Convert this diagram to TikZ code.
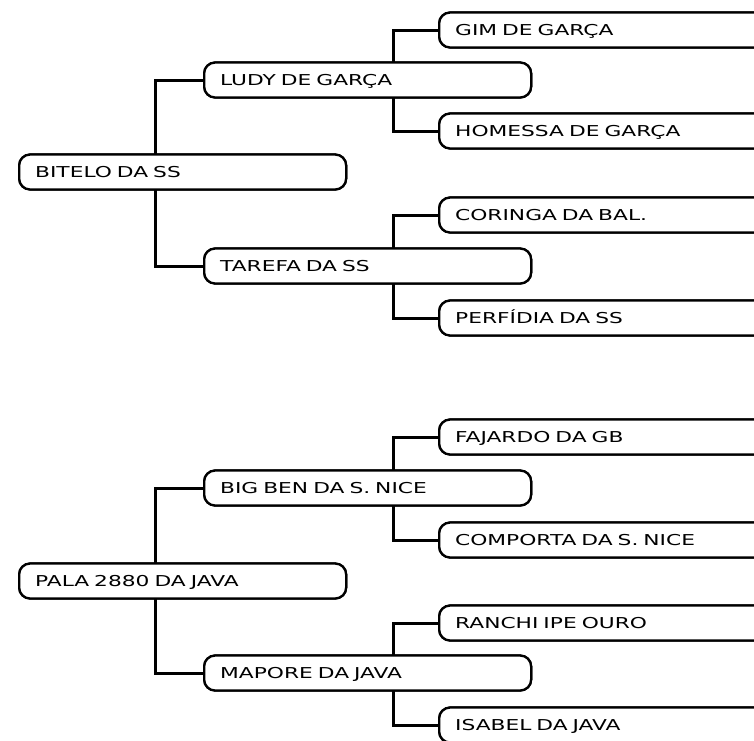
\documentclass[tikz,border=0pt]{standalone}
\usepackage{fontspec}
\newfontfamily\pixfont[FakeStretch=1.45]{DejaVu Sans}
\tikzset{
  horse/.style={draw=black, line width=2.3pt, fill=white, rounded corners=11pt,
    minimum height=35pt, inner xsep=16pt, inner ysep=0pt, anchor=west,
    text width=295pt, align=left, text height=11pt, text depth=0pt,
    font=\pixfont\fontsize{15}{18}\selectfont},
  conn/.style={draw=black, line width=3pt}
}
\begin{document}
\begin{tikzpicture}[x=1pt,y=-1pt]
\useasboundingbox (0,0) rectangle (754,740);
\clip (0,0) rectangle (754,740);
\fill[white] (0,0) rectangle (754,740);
% junction points
\coordinate (j1) at (155,172);
\coordinate (j2) at (393,80);
\coordinate (j3) at (393,266);
\coordinate (j5) at (155,581);
\coordinate (j6) at (393,488);
\coordinate (j7) at (393,673);
% nodes placed first (to name them), then connectors, then boxes drawn on top
\path
  (18,172) node[horse] (bitelo) {BITELO DA SS}
  (203,80) node[horse] (ludy) {LUDY DE GARÇA}
  (203,266) node[horse] (tarefa) {TAREFA DA SS}
  (438,30) node[horse] (gim) {GIM DE GARÇA}
  (438,131) node[horse] (homessa) {HOMESSA DE GARÇA}
  (438,215) node[horse] (coringa) {CORINGA DA BAL.}
  (438,318) node[horse] (perfidia) {PERFÍDIA DA SS}
  (18,581) node[horse] (pala) {PALA 2880 DA JAVA}
  (203,488) node[horse] (bigben) {BIG BEN DA S. NICE}
  (203,673) node[horse] (mapore) {MAPORE DA JAVA}
  (438,437) node[horse] (fajardo) {FAJARDO DA GB}
  (438,540) node[horse] (comporta) {COMPORTA DA S. NICE}
  (438,623) node[horse] (ranchi) {RANCHI IPE OURO}
  (438,725) node[horse] (isabel) {ISABEL DA JAVA};
% connectors
\draw[conn] (ludy.west) -| (j1) |- (tarefa.west);
\draw[conn] (gim.west) -| (j2) |- (homessa.west);
\draw[conn] (coringa.west) -| (j3) |- (perfidia.west);
\draw[conn] (bigben.west) -| (j5) |- (mapore.west);
\draw[conn] (fajardo.west) -| (j6) |- (comporta.west);
\draw[conn] (ranchi.west) -| (j7) |- (isabel.west);
% redraw boxes over the connectors
\path
  (18,172) node[horse] {BITELO DA SS}
  (203,80) node[horse] {LUDY DE GARÇA}
  (203,266) node[horse] {TAREFA DA SS}
  (438,30) node[horse] {GIM DE GARÇA}
  (438,131) node[horse] {HOMESSA DE GARÇA}
  (438,215) node[horse] {CORINGA DA BAL.}
  (438,318) node[horse] {PERFÍDIA DA SS}
  (18,581) node[horse] {PALA 2880 DA JAVA}
  (203,488) node[horse] {BIG BEN DA S. NICE}
  (203,673) node[horse] {MAPORE DA JAVA}
  (438,437) node[horse] {FAJARDO DA GB}
  (438,540) node[horse] {COMPORTA DA S. NICE}
  (438,623) node[horse] {RANCHI IPE OURO}
  (438,725) node[horse] {ISABEL DA JAVA};
\end{tikzpicture}
\end{document}
